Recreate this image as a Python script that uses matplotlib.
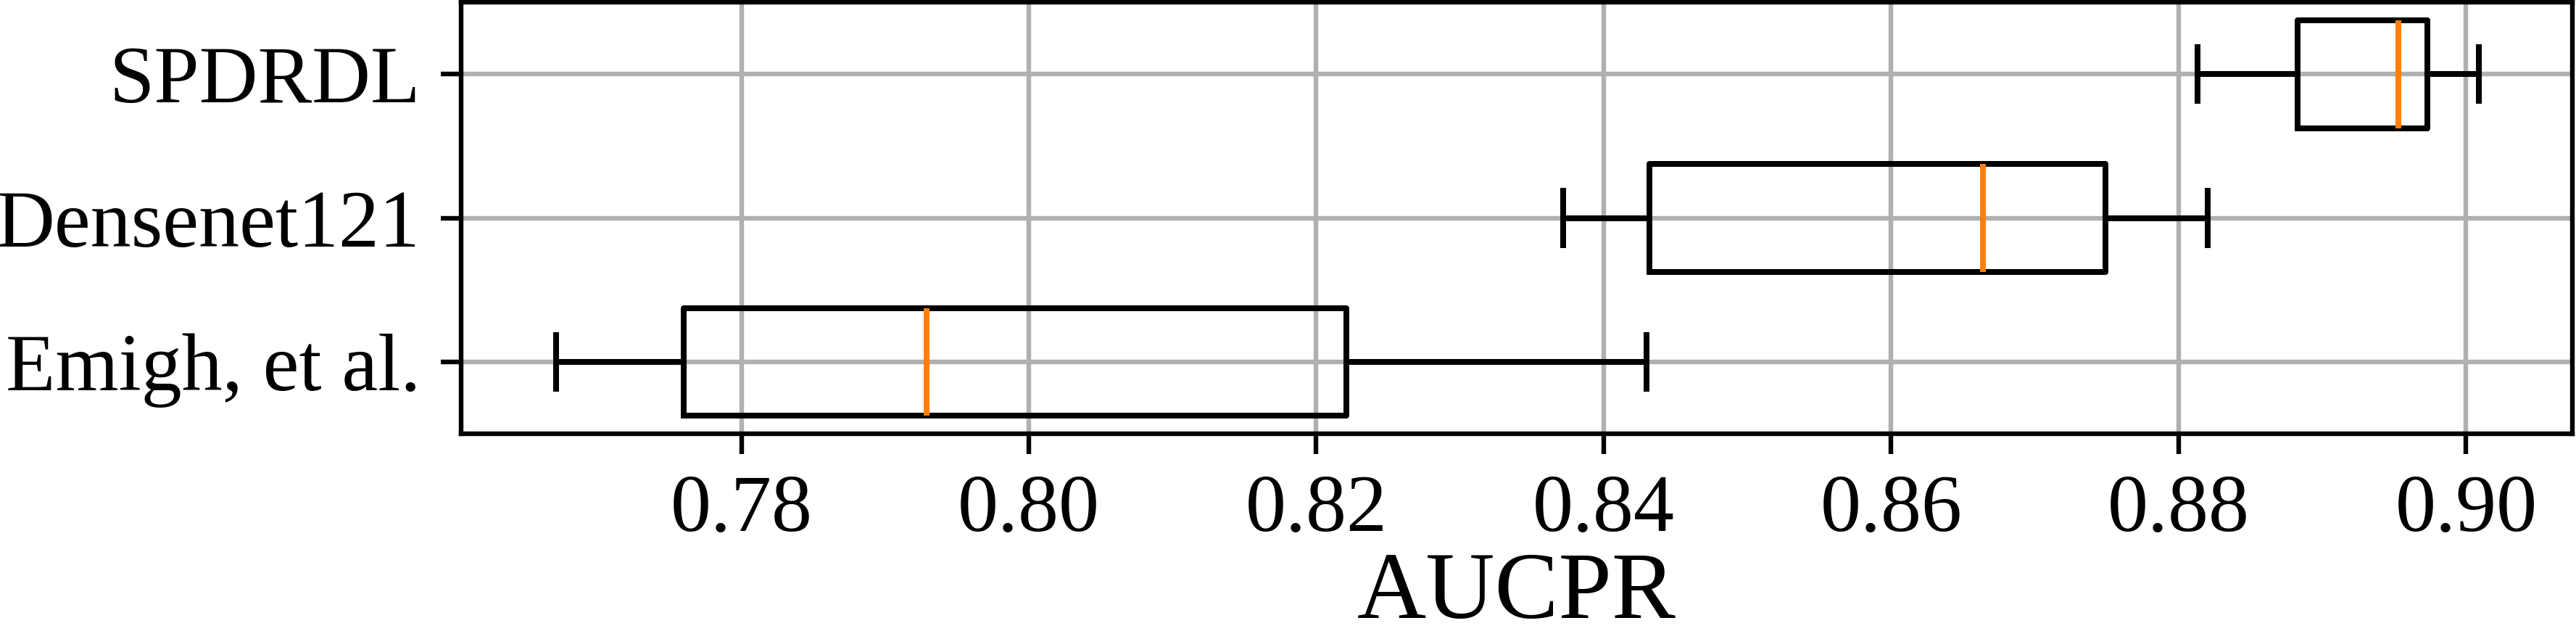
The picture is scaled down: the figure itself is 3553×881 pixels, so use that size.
import numpy as np
import matplotlib
matplotlib.use('Agg')
import matplotlib.pyplot as plt

# box statistics (bottom to top)
methods = ['Emigh, et al.', 'Densenet121', 'SPDRDL']
whislo = [0.7671, 0.8372, 0.8813]
q1 = [0.7760, 0.8432, 0.8883]
med = [0.7929, 0.8664, 0.8953]
q3 = [0.8221, 0.8749, 0.8973]
whishi = [0.8430, 0.8820, 0.9009]
xticks = [0.78, 0.80, 0.82, 0.84, 0.86, 0.88, 0.90]

plt.rcParams['font.family'] = 'serif'
plt.rcParams['font.serif'] = ['Liberation Serif', 'DejaVu Serif']
plt.rcParams['mathtext.fontset'] = 'stix'

dpi = 576
fig = plt.figure(figsize=(3553 / dpi, 881 / dpi), dpi=dpi)
ax = fig.add_axes([0.179, 0.321, 0.8196, 0.6756])

stats = []
for i in range(len(methods)):
	stats.append(dict(label=methods[i], whislo=whislo[i], q1=q1[i], med=med[i],
		q3=q3[i], whishi=whishi[i], fliers=[]))

ax.bxp(stats, vert=False, widths=0.75, showfliers=False,
	medianprops=dict(color='#ff7f0e', linewidth=1.0))

ax.set_ylim(0.5, 3.5)
ax.set_xlim(0.7605, 0.9074)
ax.set_xticks(xticks)
ax.set_xticklabels(['%.2f' % t for t in xticks])
ax.tick_params(labelsize=14)
ax.set_xlabel('AUCPR', fontsize=16.5, labelpad=0.5)
ax.grid(True)
ax.set_axisbelow(True)

fig.savefig('out.png', dpi=dpi)
